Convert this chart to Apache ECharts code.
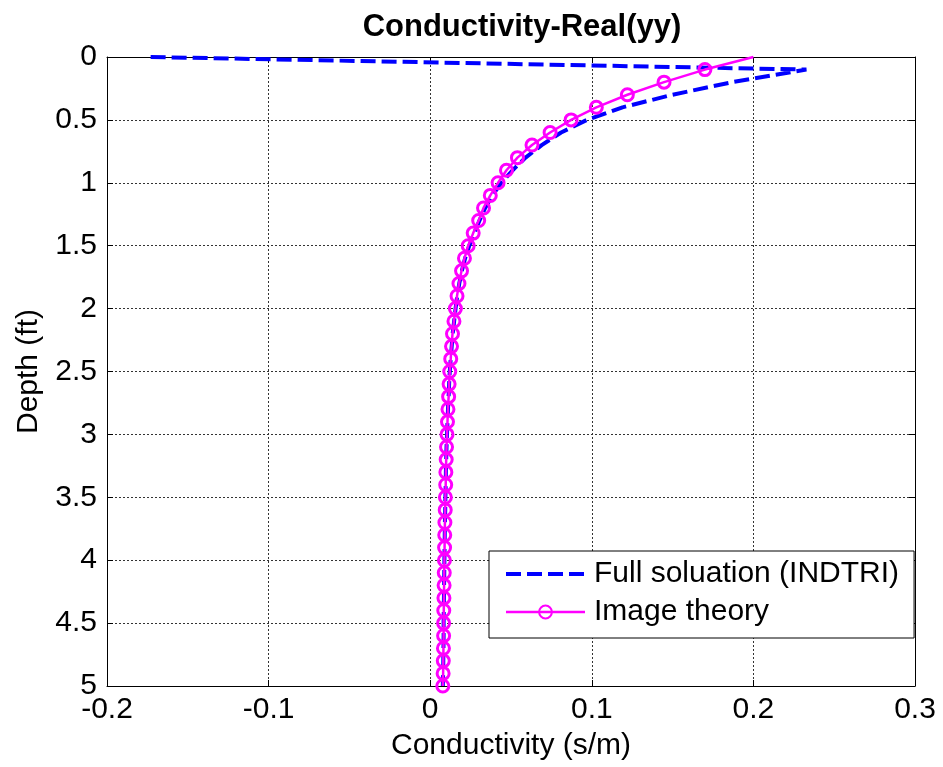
<!DOCTYPE html>
<html>
<head>
<meta charset="utf-8">
<title>Conductivity-Real(yy)</title>
<script src="https://cdn.jsdelivr.net/npm/echarts@6/dist/echarts.min.js"></script>
<style>
  html, body { margin: 0; padding: 0; background: #fff; }
  #chart { width: 943px; height: 767px; }
</style>
</head>
<body>
<div id="chart"></div>
<script>
// Depth samples (ft), shared by both curves
const depths = [
  0.0, 0.1, 0.2, 0.3, 0.4, 0.5, 0.6, 0.7, 0.8, 0.9,
  1.0, 1.1, 1.2, 1.3, 1.4, 1.5, 1.6, 1.7, 1.8, 1.9,
  2.0, 2.1, 2.2, 2.3, 2.4, 2.5, 2.6, 2.7, 2.8, 2.9,
  3.0, 3.1, 3.2, 3.3, 3.4, 3.5, 3.6, 3.7, 3.8, 3.9,
  4.0, 4.1, 4.2, 4.3, 4.4, 4.5, 4.6, 4.7, 4.8, 4.9,
  5.0
];

// Full solution (INDTRI), conductivity in s/m
const fullSolution = [
  -0.173, 0.2328, 0.187, 0.150, 0.119, 0.097, 0.081, 0.069, 0.059, 0.051,
  0.0440, 0.0385, 0.0340, 0.0305, 0.0272, 0.0242, 0.0216, 0.0196, 0.0180, 0.0167,
  0.0157, 0.0148, 0.0139, 0.0133, 0.0127, 0.0121, 0.0117, 0.0114, 0.0110, 0.0107,
  0.0104, 0.0101, 0.0099, 0.0097, 0.0096, 0.0094, 0.0093, 0.0091, 0.0090, 0.0089,
  0.0088, 0.0087, 0.0086, 0.0085, 0.0084, 0.0083, 0.0083, 0.0082, 0.0081, 0.0080,
  0.0078
];

// Image theory, conductivity in s/m
const imageTheory = [
  0.200, 0.170, 0.1447, 0.122, 0.1028, 0.0872, 0.0742, 0.0630, 0.0540, 0.0472,
  0.0420, 0.0372, 0.0330, 0.0300, 0.0266, 0.0235, 0.0212, 0.0194, 0.0178, 0.0166,
  0.0156, 0.0147, 0.0138, 0.0132, 0.0127, 0.0121, 0.0117, 0.0114, 0.0110, 0.0107,
  0.0104, 0.0101, 0.0099, 0.0097, 0.0096, 0.0094, 0.0093, 0.0091, 0.0090, 0.0089,
  0.0088, 0.0087, 0.0086, 0.0085, 0.0084, 0.0083, 0.0083, 0.0082, 0.0081, 0.0080,
  0.0078
];

const xTicks = { min: -0.2, max: 0.3, interval: 0.1 };
const yTicks = { min: 0, max: 5, interval: 0.5 };

const FONT = "'Liberation Sans', Arial, Helvetica, sans-serif";
const FS = 30;
const BLUE = '#0000ff';
const MAGENTA = '#ff00ff';
const BLUE_DASH = [15, 6];

const fullPts = depths.map((d, i) => [fullSolution[i], d]);
// the surface sample of the image-theory curve carries no marker
const imagePts = depths.map((d, i) =>
  i === 0 ? { value: [imageTheory[i], d], symbol: 'none' } : [imageTheory[i], d]);

const gridLine = { show: true, lineStyle: { color: '#333', width: 1, type: [2, 2] } };
const boxLine = { show: true, onZero: false, lineStyle: { color: '#000', width: 1 } };
const tick = { show: true, inside: true, length: 6, lineStyle: { color: '#000', width: 1 } };

const chart = echarts.init(document.getElementById('chart'), null, { renderer: 'canvas' });

chart.setOption({
  animation: false,
  backgroundColor: '#fff',
  title: {
    text: 'Conductivity-Real(yy)',
    left: 517,
    top: 7,
    textAlign: 'center',
    textStyle: { fontFamily: FONT, fontSize: 31, fontWeight: 'bold', color: '#000' }
  },
  grid: { left: 107, right: 28, top: 57, bottom: 81, containLabel: false },
  legend: {
    orient: 'vertical',
    left: 489,
    top: 551,
    padding: [8, 15, 11, 15],
    itemGap: 8,
    itemWidth: 79,
    itemHeight: 16,
    backgroundColor: '#fff',
    borderColor: '#000',
    borderWidth: 1,
    borderRadius: 0,
    textStyle: { fontFamily: FONT, fontSize: FS, lineHeight: 30, color: '#000', padding: [0, 0, 0, 4] },
    data: [
      {
        name: 'Full soluation (INDTRI)',
        itemStyle: { opacity: 0 },
        lineStyle: { color: BLUE, width: 4, type: BLUE_DASH, opacity: 1 }
      },
      {
        name: 'Image theory',
        lineStyle: { color: MAGENTA, width: 2.5 }
      }
    ]
  },
  xAxis: [
    {
      type: 'value',
      position: 'bottom',
      min: xTicks.min, max: xTicks.max, interval: xTicks.interval,
      name: 'Conductivity (s/m)',
      nameLocation: 'middle',
      nameGap: 45,
      nameTextStyle: { fontFamily: FONT, fontSize: FS, color: '#000' },
      axisLine: boxLine,
      axisTick: tick,
      axisLabel: { fontFamily: FONT, fontSize: FS, color: '#000', margin: 9 },
      splitLine: gridLine
    },
    {
      type: 'value',
      position: 'top',
      min: xTicks.min, max: xTicks.max, interval: xTicks.interval,
      axisLine: boxLine,
      axisTick: tick,
      axisLabel: { show: false },
      splitLine: { show: false }
    }
  ],
  yAxis: [
    {
      type: 'value',
      position: 'left',
      inverse: true,
      min: yTicks.min, max: yTicks.max, interval: yTicks.interval,
      name: 'Depth (ft)',
      nameLocation: 'middle',
      nameGap: 63,
      nameTextStyle: { fontFamily: FONT, fontSize: FS, color: '#000' },
      axisLine: boxLine,
      axisTick: tick,
      axisLabel: { fontFamily: FONT, fontSize: FS, color: '#000', margin: 10 },
      splitLine: gridLine
    },
    {
      type: 'value',
      position: 'right',
      inverse: true,
      min: yTicks.min, max: yTicks.max, interval: yTicks.interval,
      axisLine: boxLine,
      axisTick: tick,
      axisLabel: { show: false },
      splitLine: { show: false }
    }
  ],
  series: [
    {
      name: 'Full soluation (INDTRI)',
      type: 'line',
      xAxisIndex: 0,
      yAxisIndex: 0,
      data: fullPts,
      symbol: 'none',
      clip: false,
      color: BLUE,
      lineStyle: { color: BLUE, width: 4, type: BLUE_DASH },
      z: 2
    },
    {
      name: 'Image theory',
      type: 'line',
      xAxisIndex: 0,
      yAxisIndex: 0,
      data: imagePts,
      symbol: 'circle',
      symbolSize: 12,
      showAllSymbol: true,
      clip: false,
      color: MAGENTA,
      lineStyle: { color: MAGENTA, width: 2.5 },
      itemStyle: { color: 'rgba(255,255,255,0)', borderColor: MAGENTA, borderWidth: 3 },
      z: 3
    }
  ]
});
</script>
</body>
</html>
